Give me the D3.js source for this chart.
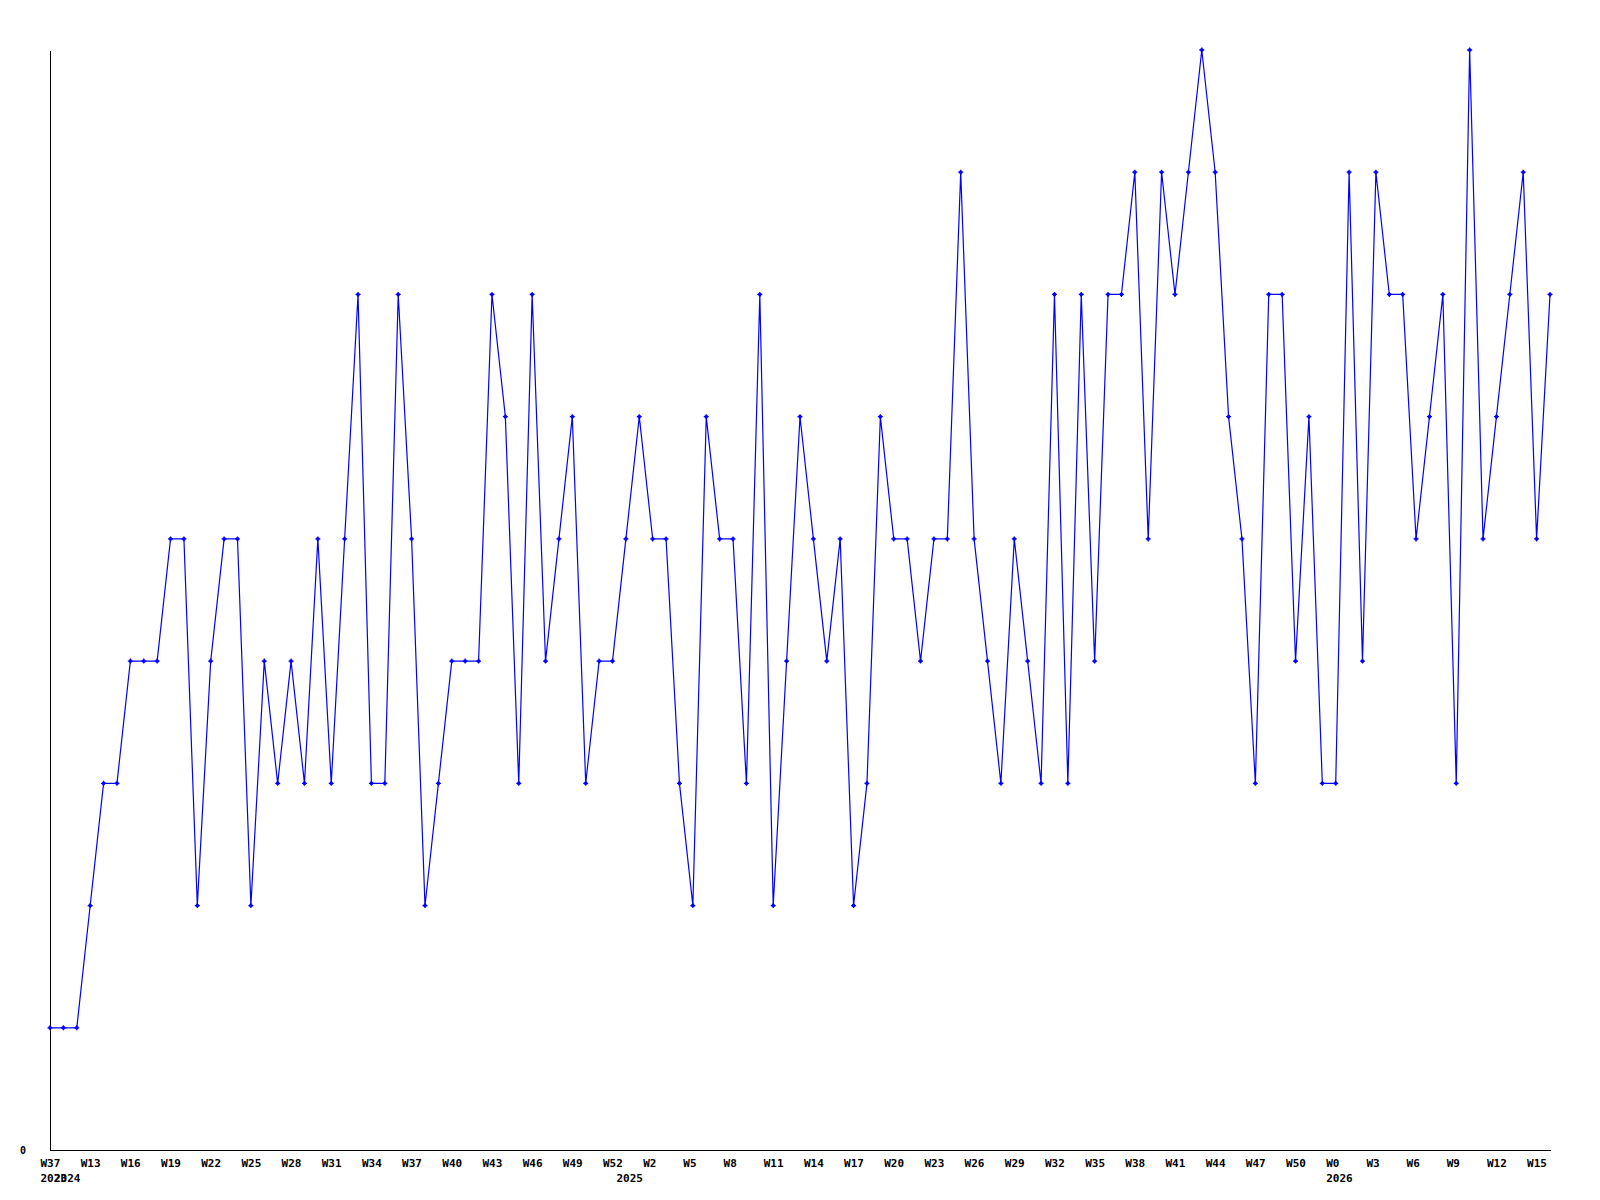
<!DOCTYPE html>
<html>
<head>
<meta charset="utf-8">
<script src="https://cdn.jsdelivr.net/npm/d3@7"></script>
<style>
  html, body { margin: 0; padding: 0; background: #ffffff; }
  svg { display: block; }
  text { font-family: "DejaVu Sans Mono", "Liberation Mono", monospace; font-weight: bold; }
</style>
</head>
<body>
<svg id="chart" width="1600" height="1200"></svg>
<script>
// Weekly values (one per week, 113 points)
const values = [
  1, 1, 1, 2, 3, 3, 4, 4, 4, 5,
  5, 2, 4, 5, 5, 2, 4, 3, 4, 3,
  5, 3, 5, 7, 3, 3, 7, 5, 2, 3,
  4, 4, 4, 7, 6, 3, 7, 4, 5, 6,
  3, 4, 4, 5, 6, 5, 5, 3, 2, 6,
  5, 5, 3, 7, 2, 4, 6, 5, 4, 5,
  2, 3, 6, 5, 5, 4, 5, 5, 8, 5,
  4, 3, 5, 4, 3, 7, 3, 7, 4, 7,
  7, 8, 5, 8, 7, 8, 9, 8, 6, 5,
  3, 7, 7, 4, 6, 3, 3, 8, 4, 8,
  7, 7, 5, 6, 7, 3, 9, 5, 6, 7,
  8, 5, 7
];

// Week tick labels (every third week) and their point index
const weekTickIndex = [0, 3, 6, 9, 12, 15, 18, 21, 24, 27, 30, 33, 36, 39, 42, 45, 48, 51, 54,
  57, 60, 63, 66, 69, 72, 75, 78, 81, 84, 87, 90, 93, 96, 99, 102, 105, 108, 111];
const weekTickLabels = ["W37", "W13", "W16", "W19", "W22", "W25", "W28", "W31", "W34", "W37",
  "W40", "W43", "W46", "W49", "W52", "W2", "W5", "W8", "W11", "W14", "W17", "W20", "W23",
  "W26", "W29", "W32", "W35", "W38", "W41", "W44", "W47", "W50", "W0", "W3", "W6", "W9",
  "W12", "W15"];

// Year labels and their point index
const yearTickIndex = [0, 1, 43, 96];
const yearTickLabels = ["2023", "2024", "2025", "2026"];

const yTickValues = [0];

const svg = d3.select("#chart");
const mLeft = 50, mRight = 1550, mTop = 50, mBottom = 1150;

const x = d3.scaleLinear().domain([0, values.length - 1]).range([mLeft, mRight]);
const y = d3.scaleLinear().domain([0, 9]).range([mBottom, mTop]);

// X axis: week labels
const weekLabelMap = new Map(weekTickIndex.map((d, i) => [d, weekTickLabels[i]]));
const xAxis = d3.axisBottom(x)
  .tickValues(weekTickIndex)
  .tickFormat(d => weekLabelMap.get(d))
  .tickSize(0)
  .tickSizeOuter(0);
const gx = svg.append("g").attr("transform", `translate(0,${mBottom})`).call(xAxis);
gx.select(".domain").attr("stroke", "#000").attr("stroke-width", 1).attr("shape-rendering", "crispEdges");
gx.selectAll("text")
  .attr("font-family", "DejaVu Sans Mono")
  .attr("font-weight", "bold")
  .attr("font-size", 11)
  .attr("fill", "#000")
  .attr("text-anchor", "start")
  .attr("x", -10)
  .attr("y", 17)
  .attr("dy", 0);

// Year labels (second bottom axis, no line)
const yearLabelMap = new Map(yearTickIndex.map((d, i) => [d, yearTickLabels[i]]));
const yearAxis = d3.axisBottom(x)
  .tickValues(yearTickIndex)
  .tickFormat(d => yearLabelMap.get(d))
  .tickSize(0)
  .tickSizeOuter(0);
const gyear = svg.append("g").attr("transform", `translate(0,${mBottom})`).call(yearAxis);
gyear.select(".domain").remove();
gyear.selectAll("text")
  .attr("font-family", "DejaVu Sans Mono")
  .attr("font-weight", "bold")
  .attr("font-size", 11)
  .attr("fill", "#000")
  .attr("text-anchor", "start")
  .attr("x", -10)
  .attr("y", 32)
  .attr("dy", 0);

// Y axis
const yAxis = d3.axisLeft(y).tickValues(yTickValues).tickFormat(d3.format("d")).tickSize(0).tickSizeOuter(0);
const gy = svg.append("g").attr("transform", `translate(${mLeft},0)`).call(yAxis);
gy.select(".domain").attr("stroke", "#000").attr("stroke-width", 1).attr("shape-rendering", "crispEdges");
gy.selectAll("text")
  .attr("font-family", "DejaVu Sans Mono")
  .attr("font-weight", "bold")
  .attr("font-size", 10)
  .attr("fill", "#000")
  .attr("text-anchor", "start")
  .attr("x", -30)
  .attr("dy", "0.35em");

// Line
const line = d3.line().x((d, i) => x(i)).y(d => y(d));
svg.append("path")
  .datum(values)
  .attr("fill", "none")
  .attr("stroke", "#0000ff")
  .attr("stroke-width", 1.2)
  .attr("d", line);

// Markers: small crosses
const mk = svg.append("g");
mk.selectAll("path.mk")
  .data(values)
  .join("path")
  .attr("class", "mk")
  .attr("fill", "none")
  .attr("stroke", "#0000ff")
  .attr("stroke-width", 1.3)
  .attr("d", (d, i) => {
    const cx = x(i), cy = y(d);
    return `M${cx - 2.5},${cy}H${cx + 2.5}M${cx},${cy - 2.5}V${cy + 2.5}`;
  });
mk.selectAll("rect.mk2")
  .data(values)
  .join("rect")
  .attr("class", "mk2")
  .attr("fill", "#0000ff")
  .attr("x", (d, i) => x(i) - 1.5)
  .attr("y", d => y(d) - 1.5)
  .attr("width", 3)
  .attr("height", 3);
</script>
</body>
</html>
